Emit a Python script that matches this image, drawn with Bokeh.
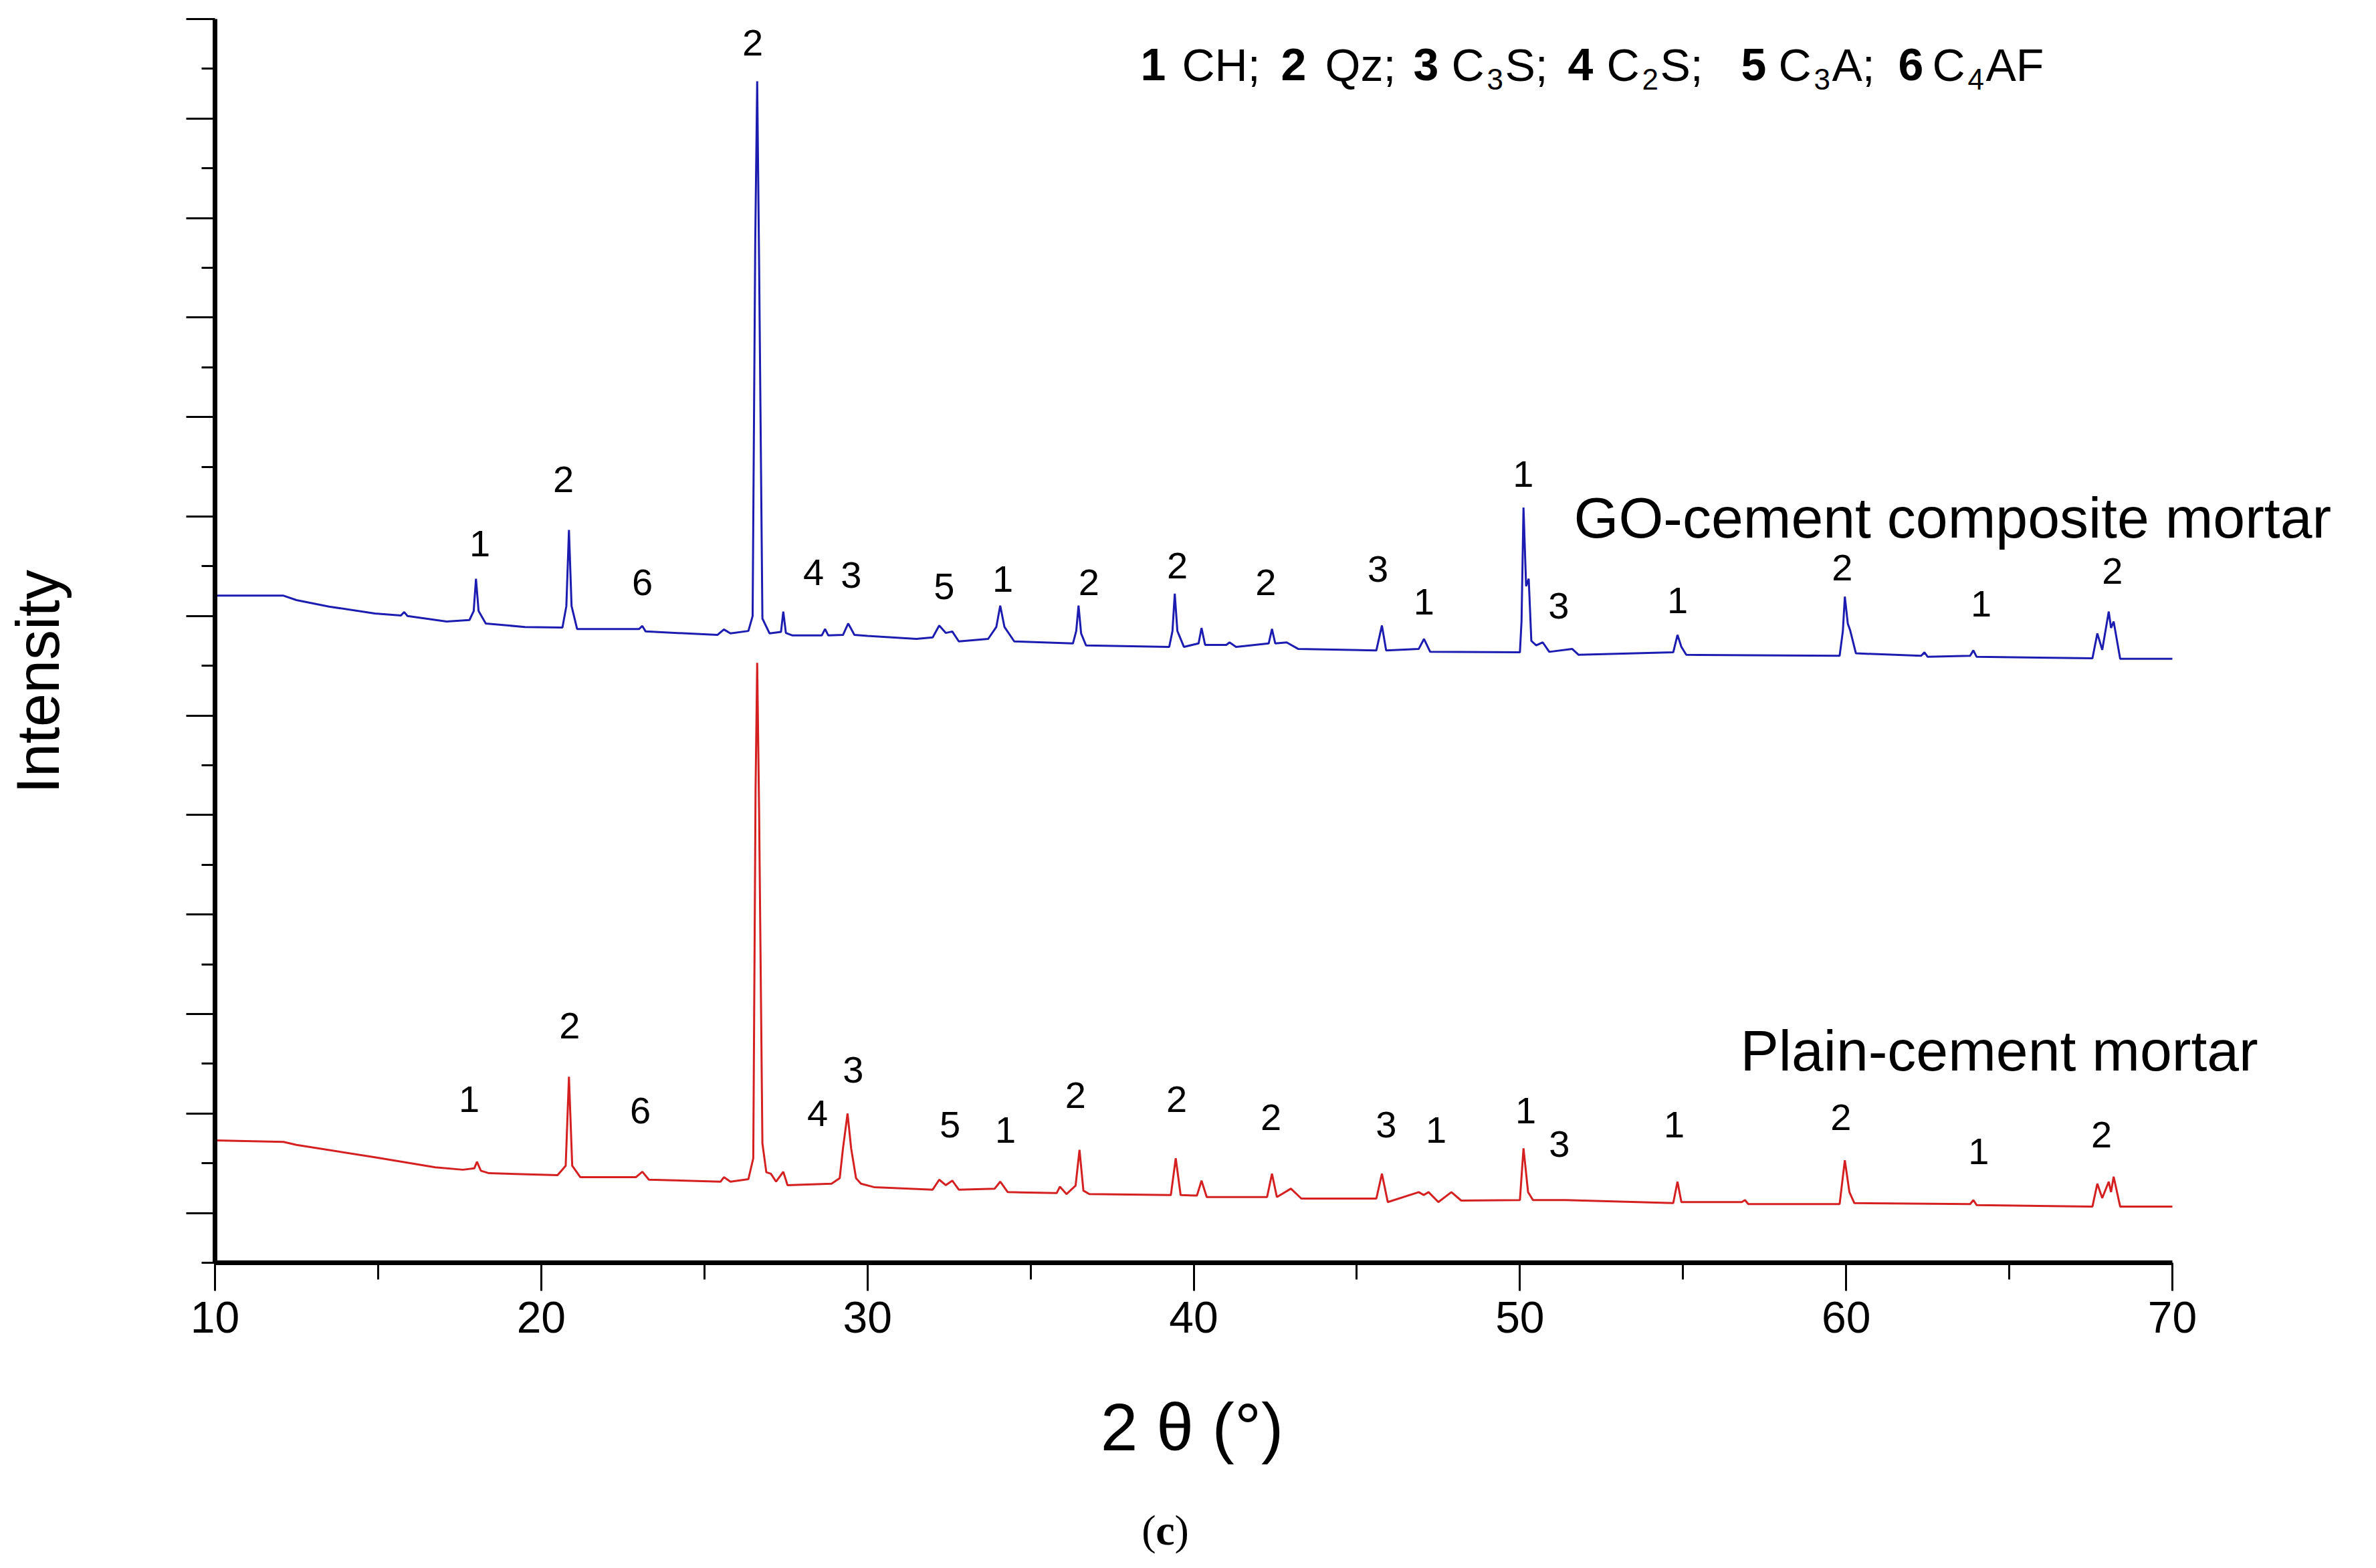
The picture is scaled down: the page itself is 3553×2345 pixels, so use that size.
import math
from bokeh.plotting import figure
from bokeh.models import Range1d, FixedTicker, Label, ColumnDataSource, CustomJSTickFormatter
from bokeh.embed import file_html
from bokeh.resources import INLINE
from bokeh.core.properties import value

# ---------------- data ----------------
# GO-cement composite mortar (blue), 2theta (deg) and intensity (arb., offset)
go_x = [10.0, 12.1, 12.5, 13.5, 14.9, 15.7, 15.8, 15.9, 17.1, 17.8, 17.93, 18.0, 18.08, 18.3,
        19.5, 20.65, 20.77, 20.85, 20.93, 21.1, 23.0, 23.1, 23.2, 25.4, 25.6, 25.8, 26.35,
        26.48, 26.56, 26.62, 26.68, 26.78, 27.0, 27.35, 27.42, 27.5, 27.7, 28.6, 28.7, 28.8,
        29.25, 29.41, 29.6, 30.0, 31.5, 32.0, 32.2, 32.4, 32.6, 32.8, 33.7, 33.95, 34.07, 34.2,
        34.5, 36.3, 36.4, 36.47, 36.55, 36.7, 39.25, 39.35, 39.42, 39.5, 39.7, 40.15, 40.24,
        40.35, 41.0, 41.1, 41.3, 42.3, 42.4, 42.5, 42.85, 43.2, 45.6, 45.77, 45.9, 46.9, 47.06,
        47.25, 50.0, 50.05, 50.11, 50.19, 50.27, 50.35, 50.5, 50.7, 50.9, 51.6, 51.8, 54.7,
        54.83, 54.95, 55.1, 59.8, 59.9, 59.96, 60.05, 60.12, 60.3, 62.3, 62.4, 62.5, 63.8, 63.9,
        64.0, 67.55, 67.7, 67.85, 68.05, 68.12, 68.2, 68.4, 70.0]
go_y = [13.41, 13.41, 13.32, 13.19, 13.05, 13.01, 13.08, 13.00, 12.89, 12.92, 13.10, 13.75, 13.10, 12.85,
        12.78, 12.77, 13.20, 14.73, 13.20, 12.74, 12.74, 12.80, 12.69, 12.62, 12.73, 12.65, 12.70,
        13.00, 20.50, 23.75, 20.00, 12.95, 12.65, 12.68, 13.09, 12.66, 12.61, 12.61, 12.74, 12.61,
        12.62, 12.85, 12.62, 12.60, 12.54, 12.57, 12.81, 12.66, 12.69, 12.49, 12.54, 12.78, 13.21, 12.78,
        12.49, 12.45, 12.70, 13.21, 12.65, 12.41, 12.38, 12.70, 13.45, 12.70, 12.38, 12.45, 12.76,
        12.42, 12.42, 12.47, 12.38, 12.45, 12.74, 12.45, 12.47, 12.34, 12.31, 12.81, 12.31, 12.34, 12.54,
        12.28, 12.27, 12.90, 15.18, 13.60, 13.75, 12.50, 12.41, 12.47, 12.28, 12.34, 12.22, 12.27,
        12.62, 12.38, 12.22, 12.20, 12.70, 13.39, 12.85, 12.72, 12.25, 12.20, 12.27, 12.18, 12.20, 12.31,
        12.18, 12.15, 12.65, 12.32, 13.09, 12.76, 12.89, 12.14, 12.14]

# Plain-cement mortar (red)
pc_x = [10.0, 12.1, 12.5, 14.9, 16.75, 17.6, 17.95, 18.03, 18.15, 18.4, 20.5, 20.75, 20.85, 20.95,
        21.2, 22.9, 23.1, 23.3, 25.5, 25.6, 25.8, 26.35, 26.5, 26.57, 26.62, 26.68, 26.78, 26.9,
        27.04, 27.2, 27.42, 27.55, 28.9, 29.15, 29.25, 29.39, 29.5, 29.65, 29.8, 30.2, 32.0, 32.2,
        32.4, 32.6, 32.8, 33.9, 34.07, 34.3, 35.8, 35.9, 36.1, 36.38, 36.5, 36.62, 36.8, 39.3,
        39.45, 39.6, 40.1, 40.24, 40.4, 42.25, 42.4, 42.55, 42.98, 43.3, 45.6, 45.77, 45.95, 46.9,
        47.05, 47.2, 47.5, 47.9, 48.2, 50.0, 50.11, 50.25, 50.4, 51.4, 54.7, 54.83, 54.95, 56.8,
        56.9, 57.0, 59.8, 59.96, 60.1, 60.25, 63.8, 63.9, 64.0, 67.55, 67.7, 67.85, 68.05, 68.12,
        68.2, 68.4, 70.0]
pc_y = [2.46, 2.43, 2.37, 2.12, 1.92, 1.87, 1.90, 2.03, 1.85, 1.80, 1.76, 1.95, 3.74, 1.95,
        1.72, 1.72, 1.83, 1.67, 1.63, 1.72, 1.63, 1.68, 2.10, 9.50, 12.06, 9.00, 2.40, 1.82,
        1.79, 1.63, 1.83, 1.56, 1.59, 1.70, 2.30, 3.00, 2.30, 1.70, 1.59, 1.52, 1.47, 1.67,
        1.56, 1.65, 1.47, 1.49, 1.63, 1.42, 1.40, 1.53, 1.38, 1.55, 2.27, 1.45, 1.38, 1.36,
        2.10, 1.36, 1.35, 1.65, 1.32, 1.32, 1.79, 1.32, 1.49, 1.29, 1.29, 1.79, 1.22, 1.42,
        1.36, 1.42, 1.22, 1.42, 1.25, 1.26, 2.30, 1.42, 1.26, 1.26, 1.20, 1.63, 1.22, 1.22,
        1.26, 1.18, 1.18, 2.06, 1.42, 1.20, 1.18, 1.26, 1.16, 1.13, 1.59, 1.30, 1.63, 1.42,
        1.73, 1.13, 1.13]

# phase markers above the peaks
go_lbl_text = ["1", "2", "6", "2", "4", "3", "5", "1", "2", "2", "2", "3", "1", "1", "3", "1", "2", "1", "2"]
go_lbl_x = [18.12, 20.68, 23.10, 26.48, 28.35, 29.50, 32.35, 34.15, 36.79, 39.50, 42.21, 45.65,
            47.06, 50.10, 51.19, 54.83, 59.88, 64.14, 68.16]
go_lbl_y = [14.46, 15.74, 13.67, 24.52, 13.88, 13.82, 13.60, 13.74, 13.67, 14.01, 13.67, 13.95,
            13.29, 15.86, 13.21, 13.31, 13.97, 13.24, 13.90]

pc_lbl_text = ["1", "2", "6", "4", "3", "5", "1", "2", "2", "2", "3", "1", "1", "3", "1", "2", "1", "2"]
pc_lbl_x = [17.79, 20.87, 23.04, 28.47, 29.56, 32.53, 34.23, 36.38, 39.48, 42.37, 45.90, 47.43,
            50.18, 51.21, 54.73, 59.84, 64.06, 67.83]
pc_lbl_y = [3.28, 4.77, 3.06, 3.01, 3.88, 2.77, 2.67, 3.37, 3.28, 2.92, 2.77, 2.67,
            3.06, 2.39, 2.77, 2.92, 2.24, 2.58]

x_ticks = [10, 20, 30, 40, 50, 60, 70]
x_minor = [15, 25, 35, 45, 55, 65]
y_ticks = [1, 3, 5, 7, 9, 11, 13, 15, 17, 19, 21, 23, 25]
y_minor = [0, 2, 4, 6, 8, 10, 12, 14, 16, 18, 20, 22, 24]

series_names = ["GO-cement composite mortar", "Plain-cement mortar"]
x_title = "2 \u03b8 (\u00b0)"
y_title = "Intensity"

# ---------------- layout ----------------
FONT = "Liberation Sans"
SERIF = "Liberation Serif"
W, H = 3536, 2328            # canvas size (page has 8px margin)
X0, X1, Y0, Y1 = 10, 70, 0, 25
# page pixels where the axes' ends sit
PX_X0, PX_X1 = 329, 3256
PY_Y0, PY_Y1 = 1896, 36
SX = (PX_X1 - PX_X0) / (X1 - X0)
SY = (PY_Y0 - PY_Y1) / (Y1 - Y0)
XR0 = X0 - (PX_X0 - 8) / SX
XR1 = XR0 + W / SX
YR1 = Y1 + (PY_Y1 - 8) / SY
YR0 = YR1 - H / SY


def px2x(px):
    return X0 + (px - PX_X0) / SX


def py2y(py):
    return Y0 + (PY_Y0 - py) / SY


p = figure(width=W, height=H, x_range=Range1d(XR0, XR1), y_range=Range1d(YR0, YR1),
           output_backend="svg", toolbar_location=None, min_border=0)
p.outline_line_color = None
p.grid.visible = False
p.background_fill_color = "white"
p.border_fill_color = "white"

xa = p.xaxis[0]
xa.fixed_location = Y0
xa.bounds = (X0, X1)
xa.ticker = FixedTicker(ticks=x_ticks, minor_ticks=x_minor)
xa.axis_line_width = 7
xa.axis_line_color = "black"
xa.major_tick_line_width = 3
xa.major_tick_out = 42
xa.major_tick_in = 0
xa.minor_tick_line_width = 3
xa.minor_tick_out = 25
xa.minor_tick_in = 0
xa.major_label_text_font = FONT
xa.major_label_text_font_size = "66px"
xa.major_label_text_color = "black"
xa.major_label_standoff = 16

ya = p.yaxis[0]
ya.fixed_location = X0
ya.bounds = (Y0, Y1)
ya.ticker = FixedTicker(ticks=y_ticks, minor_ticks=y_minor)
ya.formatter = CustomJSTickFormatter(code="return ''")
ya.axis_line_width = 7
ya.axis_line_color = "black"
ya.major_tick_line_width = 3
ya.major_tick_out = 43
ya.major_tick_in = 0
ya.minor_tick_line_width = 3
ya.minor_tick_out = 20
ya.minor_tick_in = 0

# curves
p.line(go_x, go_y, line_color="#1c1cb0", line_width=3)
p.line(pc_x, pc_y, line_color="#d42020", line_width=3)

# peak markers
for tx, xx, yy in ((go_lbl_text, go_lbl_x, go_lbl_y), (pc_lbl_text, pc_lbl_x, pc_lbl_y)):
    src = ColumnDataSource(dict(x=xx, y=yy, t=tx))
    p.text(x="x", y="y", text="t", source=src, text_font=value(FONT),
           text_font_size=value("56px"), text_align="center", text_baseline="middle",
           text_color="black")

# series names
p.add_layout(Label(x=px2x(2361), y=py2y(781), text=series_names[0], text_font=FONT,
                   text_font_size="86px", text_align="left", text_baseline="middle",
                   text_color="black"))
p.add_layout(Label(x=px2x(2610), y=py2y(1578), text=series_names[1], text_font=FONT,
                   text_font_size="86px", text_align="left", text_baseline="middle",
                   text_color="black"))

# phase key at top: (text, left px, bold, subscript)
key = [("1", 1713, True, False), ("CH;", 1775, False, False),
       ("2", 1923, True, False), ("Qz;", 1989, False, False),
       ("3", 2121, True, False), ("C", 2178, False, False), ("3", 2231, False, True), ("S;", 2258, False, False),
       ("4", 2352, True, False), ("C", 2410, False, False), ("2", 2463, False, True), ("S;", 2490, False, False),
       ("5", 2611, True, False), ("C", 2667, False, False), ("3", 2720, False, True), ("A;", 2747, False, False),
       ("6", 2846, True, False), ("C", 2897, False, False), ("4", 2950, False, True), ("AF", 2977, False, False)]
for t, lx, bold, sub in key:
    p.add_layout(Label(x=px2x(lx), y=py2y(126 if sub else 104), text=t, text_font=FONT,
                       text_font_size="44px" if sub else "68px",
                       text_font_style="bold" if bold else "normal",
                       text_align="left", text_baseline="alphabetic", text_color="black"))

# axis titles
p.add_layout(Label(x=px2x(64), y=py2y(1027), text=y_title, text_font=FONT, text_font_size="90px",
                   angle=math.pi / 2, text_align="center", text_baseline="middle", text_color="black"))
p.add_layout(Label(x=px2x(1790), y=py2y(2141), text=x_title, text_font=FONT, text_font_size="100px",
                   text_align="center", text_baseline="middle", text_color="black"))

# panel tag "(c)"
TAG_Y = 2296
p.add_layout(Label(x=px2x(1736), y=py2y(TAG_Y), text="(", text_font=SERIF, text_font_size="64px",
                   text_align="right", text_baseline="alphabetic", text_color="black"))
p.add_layout(Label(x=px2x(1750), y=py2y(TAG_Y), text="c", text_font=SERIF, text_font_size="64px",
                   text_font_style="bold", text_align="center", text_baseline="alphabetic",
                   text_color="black"))
p.add_layout(Label(x=px2x(1764), y=py2y(TAG_Y), text=")", text_font=SERIF, text_font_size="64px",
                   text_align="left", text_baseline="alphabetic", text_color="black"))

open("out.html", "w").write(file_html(p, INLINE))
